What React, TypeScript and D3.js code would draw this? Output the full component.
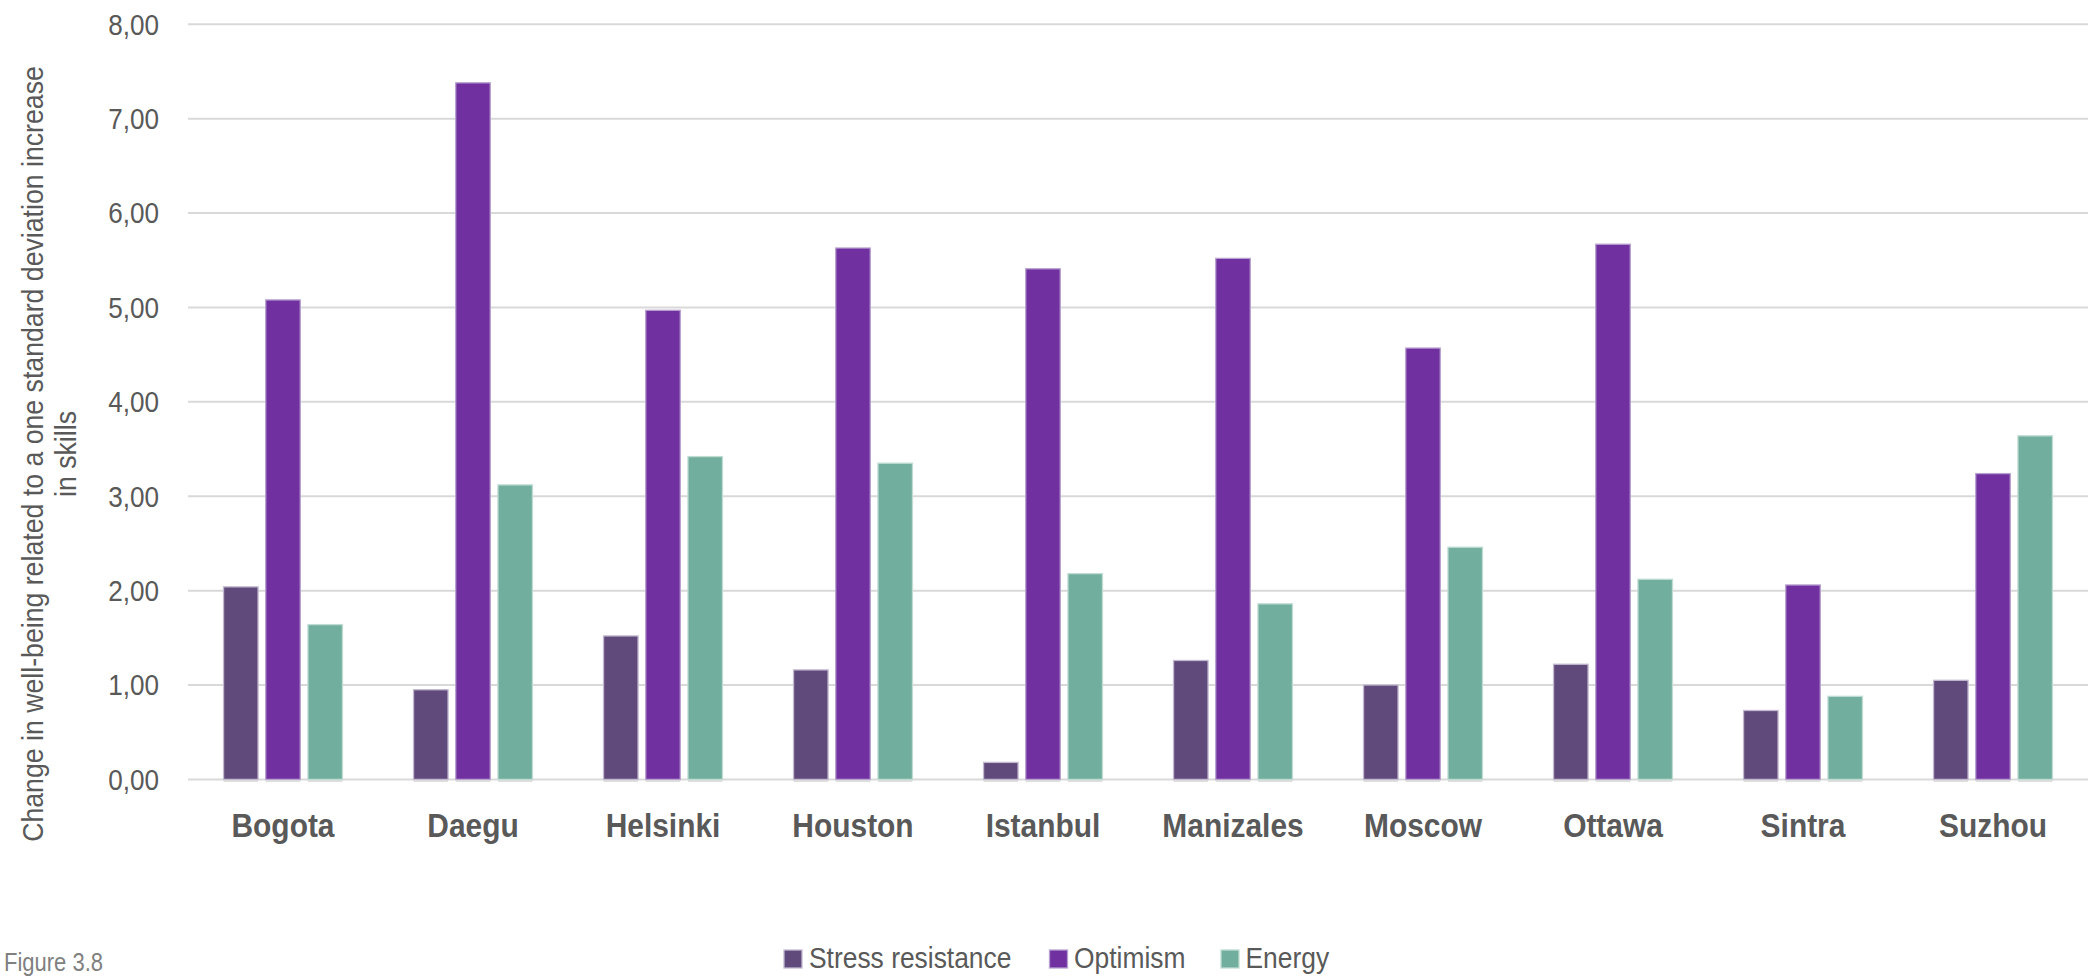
import React from "react";
import * as d3 from "d3";

// Cities on the category axis
const cities = [
  "Bogota",
  "Daegu",
  "Helsinki",
  "Houston",
  "Istanbul",
  "Manizales",
  "Moscow",
  "Ottawa",
  "Sintra",
  "Suzhou",
];

// Series names
const seriesNames = ["Stress resistance", "Optimism", "Energy"];

// Change in well-being per one-SD increase in each skill, by city
const stressResistance = [2.04, 0.95, 1.52, 1.16, 0.18, 1.26, 1.0, 1.22, 0.73, 1.05];
const optimism = [5.08, 7.38, 4.97, 5.63, 5.41, 5.52, 4.57, 5.67, 2.06, 3.24];
const energy = [1.64, 3.12, 3.42, 3.35, 2.18, 1.86, 2.46, 2.12, 0.88, 3.64];

// Y-axis tick values
const yTicks = [0, 1, 2, 3, 4, 5, 6, 7, 8];

const seriesValues = [stressResistance, optimism, energy];
const colors = ["#604a7b", "#7030a0", "#71ae9d"];
const strokes = ["#c2b8cf", "#b7a0cf", "#bfdcd3"];

const W = 2100;
const H = 977;
const FONT = "'Liberation Sans', Arial, Helvetica, sans-serif";
const TEXT = "#595959";

const plot = { left: 188, right: 2088, top: 24.3, bottom: 779.4 };

const fmt = (v: number) => v.toFixed(2).replace(".", ",");

export default function App() {
  const x0 = d3
    .scaleBand<string>()
    .domain(cities)
    .range([plot.left, plot.right])
    .paddingInner(0)
    .paddingOuter(0);

  const groupHalf = 63.3;
  const x1 = d3
    .scaleBand<string>()
    .domain(seriesNames)
    .range([-groupHalf, groupHalf])
    .paddingInner(0.182)
    .paddingOuter(0.091);

  const y = d3.scaleLinear().domain([0, 8]).range([plot.bottom, plot.top]);

  const legendLayout = [
    { sx: 784, tx: 809 },
    { sx: 1049.5, tx: 1074 },
    { sx: 1221, tx: 1245.5 },
  ];

  return (
    <svg
      width={W}
      height={H}
      style={{ position: "absolute", left: 0, top: 0, background: "#ffffff" }}
      fontFamily={FONT}
    >
      <rect x={0} y={0} width={W} height={H} fill="#ffffff" />

      {/* gridlines */}
      {yTicks.map((t) => (
        <line
          key={"g" + t}
          x1={plot.left}
          x2={plot.right}
          y1={y(t)}
          y2={y(t)}
          stroke="#d9d9d9"
          strokeWidth={2}
        />
      ))}

      {/* y tick labels */}
      {yTicks.map((t) => (
        <text
          key={"t" + t}
          transform={`translate(159,${y(t) + 10.4}) scale(0.9,1)`}
          textAnchor="end"
          fontSize={29}
          fill={TEXT}
        >
          {fmt(t)}
        </text>
      ))}

      {/* bars */}
      {cities.map((c, i) => {
        const cx = (x0(c) as number) + x0.bandwidth() / 2;
        return (
          <g key={c}>
            {seriesNames.map((s, j) => {
              const v = seriesValues[j][i];
              const bx = cx + (x1(s) as number);
              return (
                <g key={s}>
                  <rect
                    x={bx}
                    y={plot.bottom}
                    width={x1.bandwidth()}
                    height={2.5}
                    fill="#dcdcdc"
                  />
                  <rect
                    x={bx}
                    y={y(v)}
                    width={x1.bandwidth()}
                    height={y(0) - y(v)}
                    fill={colors[j]}
                    stroke={strokes[j]}
                    strokeWidth={1.3}
                  />
                </g>
              );
            })}
          </g>
        );
      })}

      {/* category labels */}
      {cities.map((c) => (
        <text
          key={"c" + c}
          transform={`translate(${(x0(c) as number) + x0.bandwidth() / 2},837) scale(0.88,1)`}
          textAnchor="middle"
          fontSize={34}
          fontWeight="bold"
          fill={TEXT}
        >
          {c}
        </text>
      ))}

      {/* y-axis title */}
      <text
        transform={`translate(0,454) rotate(-90) scale(0.89,1)`}
        textAnchor="middle"
        fontSize={30}
        fill={TEXT}
      >
        <tspan x={0} y={43}>
          Change in well-being related to a one standard deviation increase
        </tspan>
        <tspan x={0} y={76}>
          in skills
        </tspan>
      </text>

      {/* legend */}
      {seriesNames.map((s, j) => (
        <g key={"l" + s}>
          <rect
            x={legendLayout[j].sx}
            y={950}
            width={18}
            height={18}
            fill={colors[j]}
            stroke={strokes[j]}
            strokeWidth={1.3}
          />
          <text
            transform={`translate(${legendLayout[j].tx},968) scale(0.88,1)`}
            fontSize={30}
            fill={TEXT}
          >
            {s}
          </text>
        </g>
      ))}

      {/* figure caption */}
      <text
        transform="translate(4,971) scale(0.88,1)"
        fontSize={25}
        fill="#808080"
      >
        Figure 3.8
      </text>
    </svg>
  );
}
